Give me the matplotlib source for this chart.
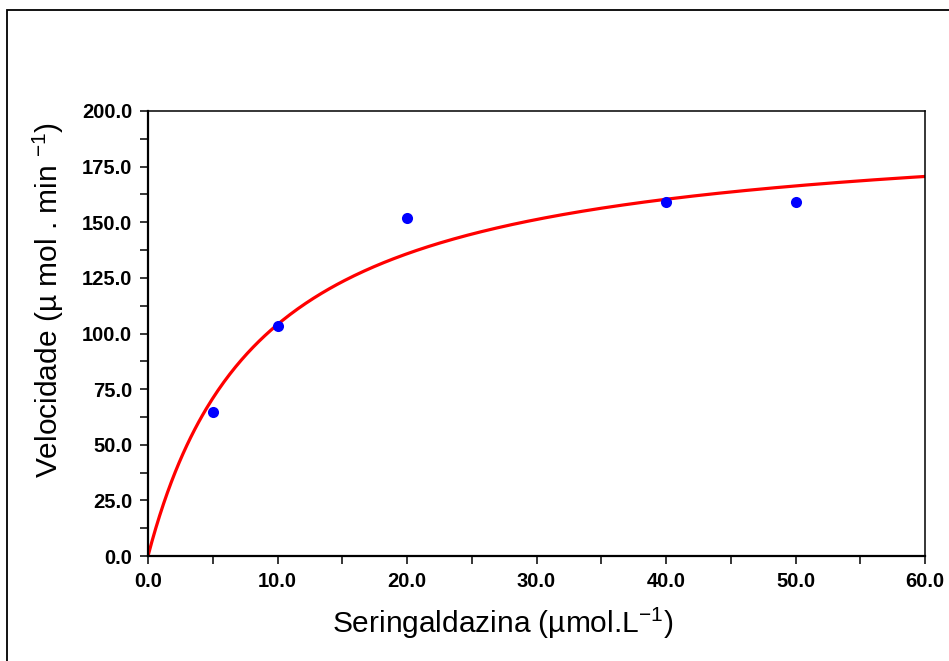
import numpy as np
import matplotlib.pyplot as plt
from matplotlib.patches import Rectangle
from matplotlib.ticker import MultipleLocator, FormatStrFormatter

plt.rcParams['font.family'] = ['Liberation Sans', 'DejaVu Sans']
plt.rcParams['mathtext.fontset'] = 'custom'
plt.rcParams['mathtext.rm'] = 'Liberation Sans'
plt.rcParams['mathtext.it'] = 'Liberation Sans:italic'
plt.rcParams['mathtext.bf'] = 'Liberation Sans:bold'

# Measured rates vs substrate concentration
substrate = [5.0, 10.0, 20.0, 40.0, 50.0]
velocity = [64.5, 103.5, 152.0, 159.0, 159.0]

# Michaelis-Menten fit parameters
vmax = 195.6
km = 8.8

fig = plt.figure(figsize=(9.49, 6.61), dpi=100)
W, H = 949, 661

# outer border of the figure panel
fig.patches.append(Rectangle((7 / W, -0.1), 1.1, (H - 10) / H + 0.1,
                             transform=fig.transFigure, fill=False,
                             edgecolor='black', linewidth=1.3))

ax = fig.add_axes([148 / W, (H - 556) / H, 777 / W, 445 / H])

s_fit = np.linspace(0, 60, 400)
v_fit = vmax * s_fit / (km + s_fit)
ax.plot(s_fit, v_fit, color='#ff0000', linewidth=2.3, zorder=2)
ax.plot(substrate, velocity, 'o', color='#0000ff', markersize=8,
        markeredgewidth=0, zorder=3)

ax.set_xlim(0, 60)
ax.set_ylim(0, 200)
ax.xaxis.set_major_locator(MultipleLocator(10))
ax.xaxis.set_minor_locator(MultipleLocator(5))
ax.yaxis.set_major_locator(MultipleLocator(25))
ax.yaxis.set_minor_locator(MultipleLocator(12.5))
ax.xaxis.set_major_formatter(FormatStrFormatter('%.1f'))
ax.yaxis.set_major_formatter(FormatStrFormatter('%.1f'))

ax.tick_params(which='both', direction='out', length=5.5, width=1.1,
               top=False, right=False)
ax.tick_params(which='major', pad=6, labelsize=14.5)
for lab in ax.get_xticklabels() + ax.get_yticklabels():
    lab.set_fontweight('bold')

ax.spines['left'].set_linewidth(1.6)
ax.spines['bottom'].set_linewidth(1.6)
ax.spines['top'].set_linewidth(1.1)
ax.spines['right'].set_linewidth(1.1)

# axis titles placed by hand (they sit off-centre from the axes)
fig.text(503 / W, (H - 633) / H, 'Seringaldazina (µmol.L$^{-1}$)',
         fontsize=21.5, ha='center', va='baseline')
fig.text(48 / W, (H - 300) / H, 'Velocidade (µ mol . min $^{-1}$)',
         fontsize=21.5, ha='center', va='center', rotation=90)

fig.savefig('out.png', dpi=100)
